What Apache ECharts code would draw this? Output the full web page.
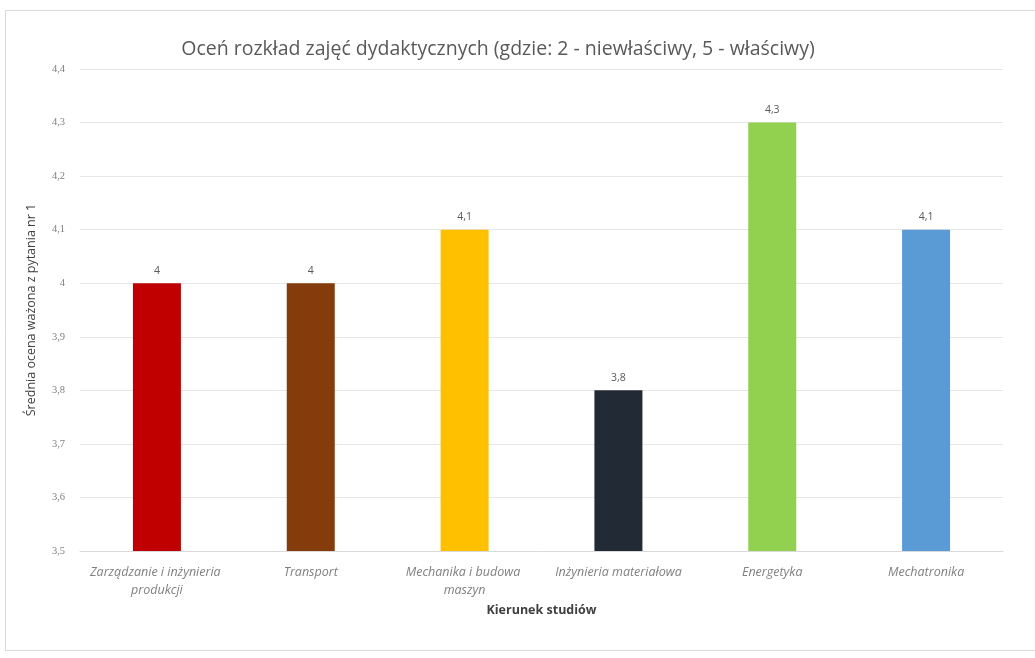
<!DOCTYPE html>
<html><head><meta charset="utf-8">
<script src="https://cdn.jsdelivr.net/npm/echarts@6/dist/echarts.min.js"></script>
<style>html,body{margin:0;padding:0;background:#fff}#c{width:1035px;height:658px}</style>
</head><body><div id="c"></div>
<script>
const categories = ['Zarządzanie i inżynieria produkcji','Transport','Mechanika i budowa maszyn','Inżynieria materiałowa','Energetyka','Mechatronika'];
const values = [4, 4, 4.1, 3.8, 4.3, 4.1];
const colors = ['#C00000','#843C0C','#FFC000','#222A35','#92D050','#5B9BD5'];
const titleText = 'Oceń rozkład zajęć dydaktycznych (gdzie: 2 - niewłaściwy, 5 - właściwy)';
const yName = 'Średnia ocena ważona z pytania nr 1';
const xName = 'Kierunek studiów';
const fmt = v => String(Math.round(v*10)/10).replace('.', ',');
const chart = echarts.init(document.getElementById('c'));
chart.setOption({
  backgroundColor:'#fff',
  animation:false,
  graphic:[{type:'rect',shape:{x:5.5,y:10.5,width:1035,height:640},style:{fill:'none',stroke:'#d9d9d9',lineWidth:1},silent:true}],
  title:{text:titleText,left:493,textAlign:'center',top:34,textStyle:{fontFamily:'Open Sans',fontSize:19.5,fontWeight:'normal',color:'#595959'}},
  grid:{left:80,right:32,top:69,bottom:107},
  xAxis:{type:'category',data:categories,name:xName,nameLocation:'middle',nameGap:52,
    nameTextStyle:{fontFamily:'Open Sans',fontSize:12.5,fontWeight:'bold',color:'#404040'},
    axisLine:{lineStyle:{color:'#d9d9d9'}},axisTick:{show:false},
    axisLabel:{interval:0,fontFamily:'Open Sans',fontStyle:'italic',fontSize:12.5,color:'#808080',width:148,overflow:'break',margin:12,lineHeight:18}},
  yAxis:{type:'value',min:3.5,max:4.4,interval:0.1,name:yName,nameLocation:'middle',nameGap:42,
    nameTextStyle:{fontFamily:'Open Sans',fontSize:12.5,color:'#404040'},
    axisLine:{show:false},axisTick:{show:false},
    axisLabel:{formatter:fmt,fontFamily:'Liberation Serif',fontSize:10.5,color:'#7f7f7f',margin:15},
    splitLine:{lineStyle:{color:'#e6e6e6'}}},
  series:[{type:'bar',barWidth:48,
    data:values.map((v,i)=>({value:v,itemStyle:{color:colors[i]}})),
    label:{show:true,position:'top',formatter:p=>fmt(p.value),fontFamily:'Open Sans',fontSize:10.5,color:'#595959',distance:7}}]
});
</script></body></html>
